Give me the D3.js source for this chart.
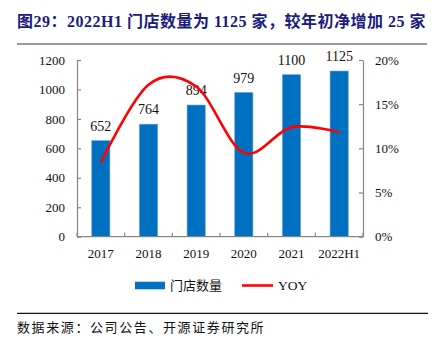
<!DOCTYPE html>
<html>
<head>
<meta charset="utf-8">
<script src="https://cdn.jsdelivr.net/npm/d3@7"></script>
<style>
  body { margin: 0; background: #fff; }
  svg { display: block; }
</style>
</head>
<body>
<div id="chart"></div>
<script>
const categories = ['2017', '2018', '2019', '2020', '2021', '2022H1'];
const storeCounts = [652, 764, 894, 979, 1100, 1125];
const yoyPct = [8.4, 17.2, 17.0, 9.5, 12.4, 11.8];
const leftTicks = [0, 200, 400, 600, 800, 1000, 1200];
const rightTicks = [0, 5, 10, 15, 20];
const seriesNames = ['门店数量', 'YOY'];

const titleText = '图29：2022H1 门店数量为 1125 家，较年初净增加 25 家';
const sourceText = '数据来源：公司公告、开源证券研究所';

const W = 439, H = 351;
const plot = { left: 77, right: 363, top: 60, bottom: 236.7 };
const serif = '"Times New Roman", "Liberation Serif", "Noto Sans CJK SC", serif';
const cjk = '"Noto Sans CJK SC", sans-serif';
const axisGray = '#868686';
const barBlue = '#0070c0';

const svg = d3.select('#chart').append('svg')
    .attr('width', W)
    .attr('height', H);

// title + rules
svg.append('text')
    .attr('x', 17).attr('y', 27)
    .style('font-family', serif)
    .style('font-size', '16px')
    .style('letter-spacing', '0.5px')
    .style('font-weight', 'bold')
    .attr('fill', '#1b1b7d')
    .text(titleText);
svg.append('line')
    .attr('x1', 17).attr('x2', 427).attr('y1', 44).attr('y2', 44)
    .attr('stroke', '#9a9a9a').attr('stroke-width', 2);
svg.append('line')
    .attr('x1', 17).attr('x2', 428).attr('y1', 313.3).attr('y2', 313.3)
    .attr('stroke', '#111').attr('stroke-width', 1.3);
svg.append('text')
    .attr('x', 17).attr('y', 332)
    .style('font-family', cjk)
    .style('font-size', '13px')
    .style('letter-spacing', '1.6px')
    .attr('fill', '#111')
    .text(sourceText);

const x = d3.scaleBand().domain(categories).range([plot.left, plot.right])
    .paddingInner(0.62).paddingOuter(0.31);
const y = d3.scaleLinear().domain([0, 1200]).range([plot.bottom, plot.top]);
const y2 = d3.scaleLinear().domain([0, 20]).range([plot.bottom, plot.top]);

// bars
svg.append('g').selectAll('rect')
    .data(storeCounts)
    .enter().append('rect')
    .attr('x', (d, i) => x(categories[i]))
    .attr('y', d => y(d))
    .attr('width', x.bandwidth())
    .attr('height', d => y(0) - y(d))
    .attr('fill', barBlue)
    .attr('stroke', '#5b9bd5')
    .attr('stroke-width', 0.6);

svg.append('g').selectAll('text')
    .data(storeCounts)
    .enter().append('text')
    .attr('x', (d, i) => x(categories[i]) + x.bandwidth() / 2)
    .attr('y', d => y(d) - 10)
    .attr('text-anchor', 'middle')
    .style('font-family', serif)
    .style('font-size', '14px')
    .attr('fill', '#111')
    .text(d => d);

// axes
function styleAxis(g) {
    g.select('.domain').attr('stroke', axisGray).attr('stroke-width', 1.2);
    g.selectAll('.tick line').attr('stroke', axisGray).attr('stroke-width', 1.2);
    g.selectAll('.tick text').style('font-family', serif).style('font-size', '13px').attr('fill', '#111');
}

svg.append('g')
    .attr('transform', `translate(${plot.left},0)`)
    .call(d3.axisLeft(y).tickValues(leftTicks).tickSize(-4).tickPadding(12).tickSizeOuter(0).tickFormat(d3.format('d')))
    .call(styleAxis);

svg.append('g')
    .attr('transform', `translate(${plot.right},0)`)
    .call(d3.axisRight(y2).tickValues(rightTicks).tickSize(-4).tickPadding(12).tickSizeOuter(0).tickFormat(d => d + '%'))
    .call(styleAxis);

const xAxis = svg.append('g')
    .attr('transform', `translate(0,${plot.bottom})`)
    .call(d3.axisBottom(x).tickSize(0).tickPadding(12).tickSizeOuter(0))
    .call(styleAxis);
xAxis.select('.domain').remove();
xAxis.append('line')
    .attr('x1', plot.left).attr('x2', plot.right)
    .attr('stroke', axisGray).attr('stroke-width', 1.2);
xAxis.selectAll('.bound')
    .data(d3.range(categories.length + 1))
    .enter().append('line')
    .attr('class', 'bound')
    .attr('x1', i => plot.left + i * x.step())
    .attr('x2', i => plot.left + i * x.step())
    .attr('y1', 0).attr('y2', -4)
    .attr('stroke', axisGray).attr('stroke-width', 1.2);

// yoy line
const line = d3.line()
    .x((d, i) => x(categories[i]) + x.bandwidth() / 2)
    .y(d => y2(d))
    .curve(d3.curveCardinal.tension(0));

svg.append('path')
    .datum(yoyPct)
    .attr('d', line)
    .attr('fill', 'none')
    .attr('stroke', '#ff0000')
    .attr('stroke-width', 2.6);

// legend
const legend = svg.append('g').attr('transform', 'translate(135,285.5)');
const barItem = legend.append('g');
barItem.append('rect')
    .attr('x', 0).attr('y', -3.8).attr('width', 30).attr('height', 7.6)
    .attr('fill', barBlue);
barItem.append('text')
    .attr('x', 35).attr('y', 4.5)
    .style('font-family', cjk).style('font-size', '13px')
    .attr('fill', '#111')
    .text(seriesNames[0]);
const lineItem = legend.append('g').attr('transform', 'translate(107,0)');
lineItem.append('line')
    .attr('x1', 0).attr('x2', 31)
    .attr('stroke', '#ff0000').attr('stroke-width', 2.6);
lineItem.append('text')
    .attr('x', 36).attr('y', 4.8)
    .style('font-family', serif).style('font-size', '13.5px')
    .attr('fill', '#111')
    .text(seriesNames[1]);
</script>
</body>
</html>
